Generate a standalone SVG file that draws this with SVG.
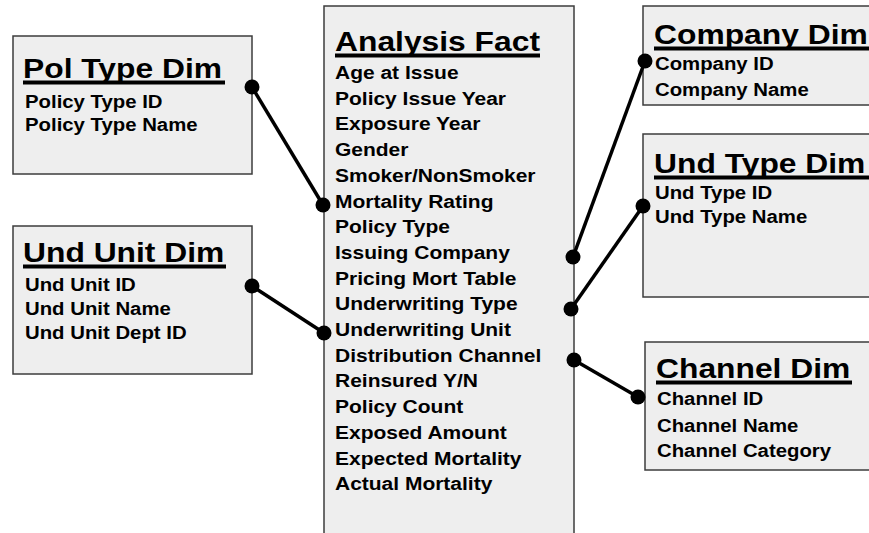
<svg xmlns="http://www.w3.org/2000/svg" width="869" height="533" viewBox="0 0 869 533">
<style>
.box{fill:#eeeeee;stroke:#3c3c3c;stroke-width:1.5}
.t{font-family:"Liberation Sans",Arial,sans-serif;font-weight:bold;fill:#000}
.ti{font-size:28px}
.f{font-size:18.5px}
.ul{stroke:#000;stroke-width:4}
.con line{stroke:#000;stroke-width:3.5}
.con circle{fill:#000}
</style>
<rect width="869" height="533" fill="#ffffff"/>
<g id="pol-type-dim">
<rect class="box" x="13" y="36" width="239" height="138"/>
<text class="t ti" transform="translate(23,78) scale(1.136,1)">Pol Type Dim</text>
<line class="ul" x1="23" y1="82.5" x2="225" y2="82.5"/>
<text class="t f" transform="translate(25,108) scale(1.1,1)">Policy Type ID</text>
<text class="t f" transform="translate(25,131) scale(1.1,1)">Policy Type Name</text>
</g>
<g id="und-unit-dim">
<rect class="box" x="13" y="226" width="239" height="148"/>
<text class="t ti" transform="translate(23,262) scale(1.136,1)">Und Unit Dim</text>
<line class="ul" x1="23" y1="266.5" x2="226" y2="266.5"/>
<text class="t f" transform="translate(25,291) scale(1.1,1)">Und Unit ID</text>
<text class="t f" transform="translate(25,315) scale(1.1,1)">Und Unit Name</text>
<text class="t f" transform="translate(25,339) scale(1.1,1)">Und Unit Dept ID</text>
</g>
<g id="analysis-fact">
<rect class="box" x="324" y="6" width="250" height="540"/>
<text class="t ti" transform="translate(335,51) scale(1.136,1)">Analysis Fact</text>
<line class="ul" x1="335" y1="55.5" x2="540" y2="55.5"/>
<g class="t f">
<text transform="translate(335,79) scale(1.135,1)">Age at Issue</text>
<text transform="translate(335,104.7) scale(1.135,1)">Policy Issue Year</text>
<text transform="translate(335,130.4) scale(1.135,1)">Exposure Year</text>
<text transform="translate(335,156.1) scale(1.135,1)">Gender</text>
<text transform="translate(335,181.8) scale(1.135,1)">Smoker/NonSmoker</text>
<text transform="translate(335,207.5) scale(1.135,1)">Mortality Rating</text>
<text transform="translate(335,233.2) scale(1.135,1)">Policy Type</text>
<text transform="translate(335,258.9) scale(1.135,1)">Issuing Company</text>
<text transform="translate(335,284.6) scale(1.135,1)">Pricing Mort Table</text>
<text transform="translate(335,310.3) scale(1.135,1)">Underwriting Type</text>
<text transform="translate(335,336) scale(1.135,1)">Underwriting Unit</text>
<text transform="translate(335,361.7) scale(1.135,1)">Distribution Channel</text>
<text transform="translate(335,387.4) scale(1.135,1)">Reinsured Y/N</text>
<text transform="translate(335,413.1) scale(1.135,1)">Policy Count</text>
<text transform="translate(335,438.8) scale(1.135,1)">Exposed Amount</text>
<text transform="translate(335,464.5) scale(1.135,1)">Expected Mortality</text>
<text transform="translate(335,490.2) scale(1.135,1)">Actual Mortality</text>
</g>
</g>
<g id="company-dim">
<rect class="box" x="643" y="6" width="240" height="99"/>
<text class="t ti" transform="translate(654,44) scale(1.136,1)">Company Dim</text>
<line class="ul" x1="654" y1="48.5" x2="869" y2="48.5"/>
<text class="t f" transform="translate(655,70) scale(1.1,1)">Company ID</text>
<text class="t f" transform="translate(655,96) scale(1.1,1)">Company Name</text>
</g>
<g id="und-type-dim">
<rect class="box" x="643" y="134" width="240" height="163"/>
<text class="t ti" transform="translate(654,173) scale(1.136,1)">Und Type Dim</text>
<line class="ul" x1="654" y1="177.5" x2="869" y2="177.5"/>
<text class="t f" transform="translate(655,198.5) scale(1.1,1)">Und Type ID</text>
<text class="t f" transform="translate(655,223) scale(1.1,1)">Und Type Name</text>
</g>
<g id="channel-dim">
<rect class="box" x="645" y="342" width="240" height="128"/>
<text class="t ti" transform="translate(656,378) scale(1.136,1)">Channel Dim</text>
<line class="ul" x1="656" y1="382.5" x2="852" y2="382.5"/>
<text class="t f" transform="translate(657,405) scale(1.1,1)">Channel ID</text>
<text class="t f" transform="translate(657,431.5) scale(1.1,1)">Channel Name</text>
<text class="t f" transform="translate(657,456.5) scale(1.1,1)">Channel Category</text>
</g>
<g id="connectors" class="con">
<line x1="252" y1="87" x2="323" y2="205"/>
<circle cx="252" cy="87" r="7.5"/><circle cx="323" cy="205" r="7.5"/>
<line x1="252" y1="286" x2="324" y2="333"/>
<circle cx="252" cy="286" r="7.5"/><circle cx="324" cy="333" r="7.5"/>
<line x1="573" y1="257" x2="645" y2="61"/>
<circle cx="573" cy="257" r="7.5"/><circle cx="645" cy="61" r="7.5"/>
<line x1="571" y1="309" x2="643" y2="206"/>
<circle cx="571" cy="309" r="7.5"/><circle cx="643" cy="206" r="7.5"/>
<line x1="574" y1="360" x2="638" y2="397"/>
<circle cx="574" cy="360" r="7.5"/><circle cx="638" cy="397" r="7.5"/>
</g>
</svg>
